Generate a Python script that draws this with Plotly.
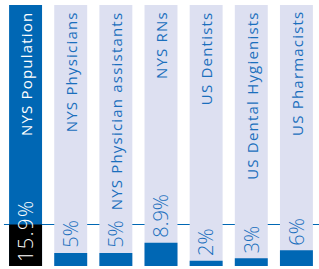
import plotly.graph_objects as go

categories = ["NYS Population", "NYS Physicians", "NYS Physician assistants",
              "NYS RNs", "US Dentists", "US Dental Hygienists", "US Pharmacists"]
values = [15.9, 5, 5, 8.9, 2, 3, 6]
value_labels = ["15.9%", "5%", "5%", "8.9%", "2%", "3%", "6%"]
full_scale = [100] * len(categories)

BLUE = "#0067b4"
TXT = "#1a6fbd"
LAV = "#dde0f1"
FONT = "Open Sans"


def spaced(s, px):
    return f'<span style="letter-spacing:{px}px">{s}</span>'


fig = go.Figure()
fig.add_trace(go.Bar(
    x=categories, y=full_scale,
    marker=dict(color=[BLUE] + [LAV] * (len(categories) - 1), line=dict(width=0)),
    hoverinfo="skip", showlegend=False))
fig.add_trace(go.Bar(
    x=categories, y=values,
    marker=dict(color=["#000000"] + [BLUE] * (len(categories) - 1), line=dict(width=0)),
    showlegend=False))

# reference line at the population share
fig.add_shape(type="line", xref="paper", yref="y", x0=0.003, x1=1, y0=values[0], y1=values[0],
              line=dict(color=BLUE, width=1.2), layer="below")

for i, (c, v, t) in enumerate(zip(categories, values, value_labels)):
    fig.add_annotation(x=c, y=100, text=spaced(c, 1.2), textangle=-90, showarrow=False,
                       xanchor="center", yanchor="top", yshift=-4,
                       font=dict(family=FONT, size=15,
                                 color="#ffffff" if i == 0 else TXT))
    if i == 0:
        fig.add_annotation(x=c, y=0, text=spaced(t, 1.5), textangle=-90, showarrow=False,
                           xanchor="center", yanchor="bottom", yshift=2,
                           font=dict(family=FONT, size=20, weight=300, color="#ffffff"))
    else:
        fig.add_annotation(x=c, y=v, text=t, textangle=-90, showarrow=False,
                           xanchor="center", yanchor="bottom", yshift=3,
                           font=dict(family=FONT, size=20, weight=300, color=TXT))

fig.update_layout(
    width=319, height=269,
    margin=dict(l=3, r=0, t=5, b=3),
    barmode="overlay", bargap=0.27,
    plot_bgcolor="white", paper_bgcolor="white",
    xaxis=dict(visible=False, range=[-0.5, 6.5]),
    yaxis=dict(visible=False, range=[0, 100]),
)
fig.write_html("out.html", config={"displayModeBar": False},
               post_script="document.body.style.margin='0';")
